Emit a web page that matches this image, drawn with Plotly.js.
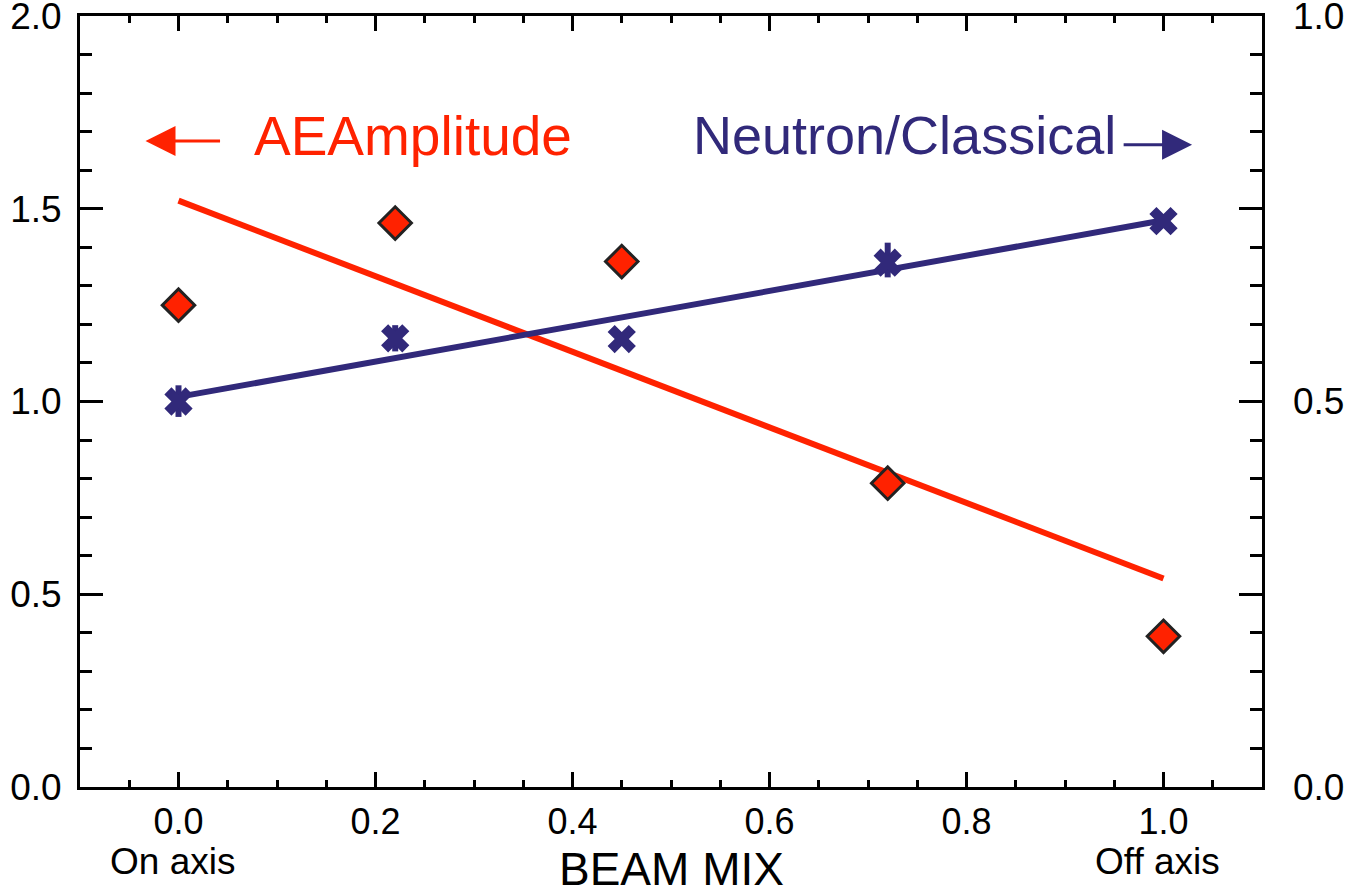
<!DOCTYPE html>
<html>
<head>
<meta charset="utf-8">
<script src="https://cdn.plot.ly/plotly-3.0.1.min.js"></script>
<style>
html,body{margin:0;padding:0;background:#fff;}
#chart{width:1348px;height:894px;}
</style>
</head>
<body>
<div id="chart"></div>
<script>
// ---- data ----
const beamMix = [0.0, 0.22, 0.45, 0.72, 1.0];
const aeAmplitude = [1.25, 1.463, 1.363, 0.788, 0.391];
const neutronClassical = [0.50, 0.582, 0.581, 0.680, 0.734];
const neutronErrPlus = [0.021, 0.017, 0.008, 0.026, 0.008];
const neutronErrMinus = [0.020, 0.017, 0.008, 0.019, 0.008];
const fitX = [0.0, 1.0];
const aeFit = [1.521, 0.541];
const neutronFit = [0.506, 0.735];
const leftTicks = [0.0, 0.5, 1.0, 1.5, 2.0];
const rightTickVals = [0.0, 0.5, 1.0];
const rightTickText = ['0.0', '0.5', '1.0'];
const xTicks = [0.0, 0.2, 0.4, 0.6, 0.8, 1.0];

const RED = '#ff2200';
const NAVY = '#31297a';
const FONT = 'Liberation Sans, Arial, Helvetica, sans-serif';

const traces = [
  {x: fitX, y: aeFit, mode: 'lines', line: {color: RED, width: 6}, xaxis: 'x', yaxis: 'y', hoverinfo: 'skip'},
  {x: beamMix, y: aeAmplitude, mode: 'markers', xaxis: 'x', yaxis: 'y',
   marker: {symbol: 'diamond', size: 25, color: RED, line: {color: '#222222', width: 3}}},
  {x: fitX, y: neutronFit, mode: 'lines', line: {color: NAVY, width: 6}, xaxis: 'x', yaxis: 'y2', hoverinfo: 'skip'},
  {x: beamMix, y: neutronClassical, mode: 'markers', xaxis: 'x', yaxis: 'y2',
   marker: {symbol: 'x', size: 25, color: NAVY, line: {width: 0}},
   error_y: {type: 'data', symmetric: false, array: neutronErrPlus, arrayminus: neutronErrMinus,
             color: NAVY, thickness: 6, width: 0}}
];

const layout = {
  width: 1348, height: 894,
  margin: {l: 80, r: 86, t: 16, b: 107},
  paper_bgcolor: '#ffffff', plot_bgcolor: '#ffffff',
  showlegend: false,
  font: {family: FONT, size: 37, color: '#000'},
  xaxis: {
    range: [-0.1, 1.1], tickvals: xTicks, tickformat: '.1f',
    showgrid: false, zeroline: false,
    showline: true, linecolor: '#000', linewidth: 3, mirror: 'ticks',
    ticks: 'inside', ticklen: 15, tickwidth: 3, tickcolor: '#000',
    ticklabelstandoff: 1, ticklabeloverflow: 'allow',
    minor: {dtick: 0.05, tick0: 0, ticks: 'inside', ticklen: 7, tickwidth: 3, tickcolor: '#000', showgrid: false},
    tickfont: {family: FONT, size: 36, color: '#000'}
  },
  yaxis: {
    range: [0, 2], tickvals: leftTicks, tickformat: '.1f',
    showgrid: false, zeroline: false,
    showline: true, linecolor: '#000', linewidth: 3, mirror: 'ticks',
    ticks: 'inside', ticklen: 23, tickwidth: 3, tickcolor: '#000',
    ticklabelstandoff: 8, ticklabeloverflow: 'allow',
    minor: {dtick: 0.1, tick0: 0, ticks: 'inside', ticklen: 12, tickwidth: 3, tickcolor: '#000', showgrid: false},
    tickfont: {family: FONT, size: 37, color: '#000'}
  },
  yaxis2: {
    range: [0, 1], overlaying: 'y', side: 'right',
    tickvals: rightTickVals, ticktext: rightTickText,
    showgrid: false, zeroline: false, showline: false, ticks: '',
    ticklabelstandoff: 30, ticklabeloverflow: 'allow',
    tickfont: {family: FONT, size: 37, color: '#000'}
  },
  annotations: [
    {xref: 'x', yref: 'y', x: -0.0335, y: 1.676, ax: 0.0437, ay: 1.676, axref: 'x', ayref: 'y',
     showarrow: true, arrowhead: 2, arrowsize: 2.0, arrowwidth: 3, arrowcolor: RED, text: ''},
    {xref: 'x', yref: 'y', x: 0.2376, y: 1.688, xanchor: 'center', yanchor: 'middle', text: 'AEAmplitude', showarrow: false,
     font: {family: FONT, size: 55, color: RED}},
    {xref: 'x', yref: 'y', x: 0.737, y: 1.692, xanchor: 'center', yanchor: 'middle', text: 'Neutron/Classical', showarrow: false,
     font: {family: FONT, size: 54, color: NAVY}},
    {xref: 'x', yref: 'y', x: 1.029, y: 1.666, ax: 0.958, ay: 1.666, axref: 'x', ayref: 'y',
     showarrow: true, arrowhead: 2, arrowsize: 2.0, arrowwidth: 3, arrowcolor: NAVY, text: ''},
    {xref: 'x', yref: 'paper', x: -0.0066, y: -0.097, xanchor: 'center', yanchor: 'middle', text: 'On axis', showarrow: false,
     font: {family: FONT, size: 37, color: '#000'}},
    {xref: 'x', yref: 'paper', x: 0.9944, y: -0.097, xanchor: 'center', yanchor: 'middle', text: 'Off axis', showarrow: false,
     font: {family: FONT, size: 37, color: '#000'}},
    {xref: 'paper', yref: 'paper', x: 0.5, y: -0.107, xanchor: 'center', yanchor: 'middle', text: 'BEAM MIX', showarrow: false,
     font: {family: FONT, size: 46, color: '#000'}}
  ]
};

Plotly.newPlot('chart', traces, layout, {staticPlot: true, displayModeBar: false});
</script>
</body>
</html>
